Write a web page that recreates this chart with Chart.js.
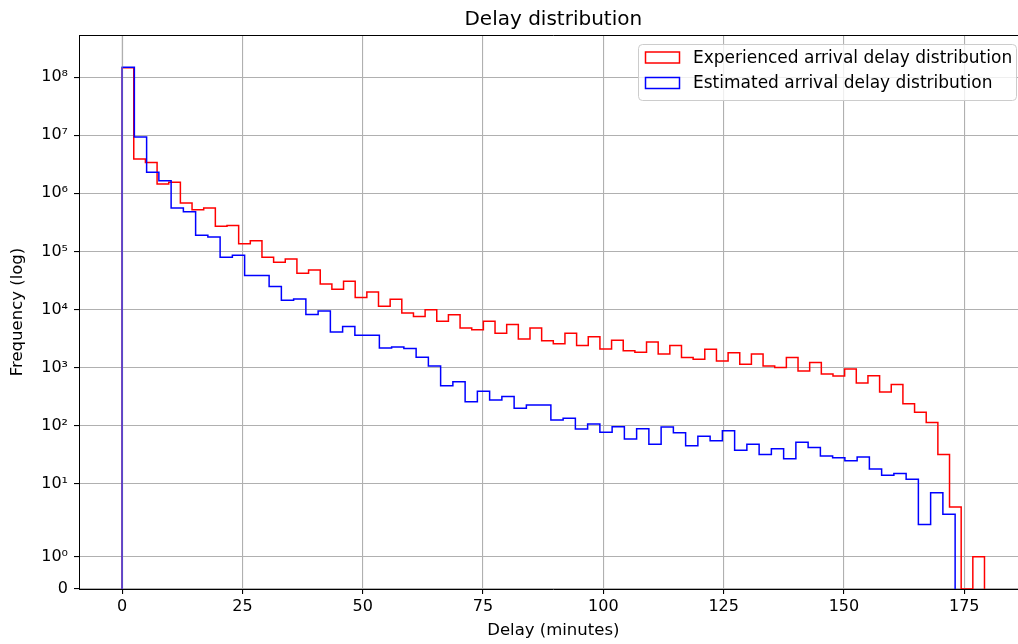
<!DOCTYPE html>
<html>
<head>
<meta charset="utf-8">
<title>Delay distribution</title>
<script src="https://cdn.jsdelivr.net/npm/chart.js@4.4.1/dist/chart.umd.min.js"></script>
<style>
    html, body { margin: 0; padding: 0; background: #fff; overflow: hidden; }
    #wrap { width: 1032px; height: 644px; }
</style>
</head>
<body>
<div id="wrap"><canvas id="chart" width="1032" height="644"></canvas></div>
<script>
// Histogram ranges (minutes) and counts per bin
const redRange = [0, 179.2];
const redCounts = [
    1.45e8, 3.9e6, 3.4e6, 1.45e6, 1.55e6, 6.8e5, 5.2e5, 5.6e5, 2.7e5, 2.8e5,
    1.35e5, 1.53e5, 7.9e4, 6.5e4, 7.4e4, 4.2e4, 4.8e4, 2.74e4, 2.24e4, 3.05e4,
    16100, 20000, 11400, 15000, 8700, 7600, 9900, 6300, 8100, 4800,
    4500, 6300, 3900, 5500, 3100, 4800, 2900, 2580, 3900, 2400,
    3400, 2090, 2950, 1950, 1830, 2750, 1720, 2400, 1490, 1390,
    2070, 1300, 1810, 1140, 1720, 1070, 1000, 1490, 877, 1220,
    778, 718, 948, 541, 725, 381, 512, 239, 171, 114,
    32, 4, 0, 1
];
const blueRange = [0, 173.1];
const blueCounts = [
    1.47e8, 9.3e6, 2.3e6, 1.65e6, 5.6e5, 4.8e5, 1.9e5, 1.77e5, 7.9e4, 8.6e4,
    38500, 38500, 25000, 14400, 15200, 8200, 9400, 4100, 5100, 3600,
    3600, 2170, 2260, 2140, 1510, 1070, 487, 571, 258, 390,
    278, 317, 199, 228, 228, 125, 134, 88, 107, 77,
    96, 59, 89, 48, 95, 76, 45, 66, 55, 82,
    38, 48, 32, 40, 27, 52, 42, 30, 28, 25,
    29, 18, 14, 15, 12, 2, 7, 3
];
const xTicks = [0, 25, 50, 75, 100, 125, 150, 175];
const yTicks = [0, 1, 10, 100, 1e3, 1e4, 1e5, 1e6, 1e7, 1e8];
const yTickLabels = ['0', '10⁰', '10¹', '10²', '10³', '10⁴', '10⁵', '10⁶', '10⁷', '10⁸'];
const seriesLabels = ['Experienced arrival delay distribution', 'Estimated arrival delay distribution'];

// symlog like matplotlib (linthresh 2, linscale 1)
const LINTHRESH = 2;
const LINADJ = 1 / (1 - 1 / 10);
function symlog(v) {
    const a = Math.abs(v);
    if (a <= LINTHRESH) return v * LINADJ;
    return Math.sign(v) * LINTHRESH * (LINADJ + Math.log10(a / LINTHRESH));
}
function symexp(t) {
    const a = Math.abs(t);
    if (a <= LINTHRESH * LINADJ) return t / LINADJ;
    return Math.sign(t) * LINTHRESH * Math.pow(10, a / LINTHRESH - LINADJ);
}

class SymlogScale extends Chart.Scale {
    determineDataLimits() {
        this.min = this.options.min;
        this.max = this.options.max;
    }
    buildTicks() {
        return yTicks.map(v => ({ value: v }));
    }
    configure() {
        super.configure();
        this._lo = symlog(this.min);
        this._hi = symlog(this.max);
    }
    getLabelForValue(value) {
        return String(value);
    }
    getPixelForValue(value) {
        return this.getPixelForDecimal((symlog(value) - this._lo) / (this._hi - this._lo));
    }
    getValueForPixel(pixel) {
        return symexp(this._lo + this.getDecimalForPixel(pixel) * (this._hi - this._lo));
    }
}
SymlogScale.id = 'symlog';
SymlogScale.defaults = {};
Chart.register(SymlogScale);

// outline of a step histogram
function stepPoints(range, counts) {
    const w = (range[1] - range[0]) / counts.length;
    const pts = [{ x: range[0], y: 0 }];
    counts.forEach((c, i) => pts.push({ x: range[0] + i * w, y: c }));
    pts.push({ x: range[1], y: 0 });
    return pts;
}

const FONT = 'DejaVu Sans';
Chart.defaults.font.family = FONT;
Chart.defaults.color = '#000';

const decorations = {
    id: 'decorations',
    afterDatasetsDraw(chart) {
        // grid sits above the histogram outlines, as in the original
        const ctx = chart.ctx;
        const area = chart.chartArea;
        const x0 = chart.scales.x.getPixelForValue(0);
        ctx.save();
        ctx.strokeStyle = 'rgba(176,176,176,0.6)';
        ctx.lineWidth = 1.1;
        ctx.beginPath();
        ctx.moveTo(x0, area.top);
        ctx.lineTo(x0, area.bottom);
        ctx.stroke();
        ctx.restore();
    },
    afterDraw(chart) {
        const ctx = chart.ctx;
        const area = chart.chartArea;
        ctx.save();
        // top / right spines
        ctx.strokeStyle = '#000';
        ctx.lineWidth = 1;
        ctx.beginPath();
        ctx.moveTo(area.left, area.top + 0.5);
        ctx.lineTo(area.right, area.top + 0.5);
        ctx.lineTo(area.right, area.bottom);
        ctx.stroke();

        ctx.fillStyle = '#000';
        ctx.textAlign = 'center';
        ctx.textBaseline = 'alphabetic';
        ctx.font = '20px "' + FONT + '"';
        ctx.fillText('Delay distribution', (area.left + area.right) / 2, 25);

        ctx.font = '16.5px "' + FONT + '"';
        ctx.textBaseline = 'middle';
        ctx.fillText('Delay (minutes)', (area.left + area.right) / 2, 631);
        ctx.save();
        ctx.translate(18, (area.top + area.bottom) / 2);
        ctx.rotate(-Math.PI / 2);
        ctx.fillText('Frequency (log)', 0, 0);
        ctx.restore();

        // legend
        ctx.fillStyle = 'rgba(255,255,255,0.8)';
        ctx.strokeStyle = '#cccccc';
        ctx.lineWidth = 1;
        ctx.beginPath();
        ctx.roundRect(638.5, 44.5, 378, 56, 4);
        ctx.fill();
        ctx.stroke();
        const colors = ['#ff0000', '#0000ff'];
        const rowY = [57.5, 83];
        ctx.font = '17px "' + FONT + '"';
        ctx.textAlign = 'left';
        ctx.textBaseline = 'middle';
        seriesLabels.forEach((label, i) => {
            ctx.strokeStyle = colors[i];
            ctx.lineWidth = 1.5;
            ctx.strokeRect(645.5, rowY[i] - 5.5, 34, 11);
            ctx.fillStyle = '#000';
            ctx.fillText(label, 693, rowY[i] + 1);
        });
        ctx.restore();
    }
};

new Chart(document.getElementById('chart'), {
    type: 'line',
    data: {
        datasets: [
            {
                label: seriesLabels[0],
                data: stepPoints(redRange, redCounts),
                borderColor: '#ff0000',
                borderWidth: 1.5,
                pointRadius: 0,
                stepped: true,
                fill: false,
                order: 1
            },
            {
                label: seriesLabels[1],
                data: stepPoints(blueRange, blueCounts),
                borderColor: '#0000ff',
                borderWidth: 1.5,
                pointRadius: 0,
                stepped: true,
                fill: false,
                order: 0
            }
        ]
    },
    options: {
        responsive: false,
        animation: false,
        layout: { padding: { left: 0, top: 35, right: 4.4, bottom: 0 } },
        plugins: {
            legend: { display: false },
            title: { display: false },
            tooltip: { enabled: false }
        },
        scales: {
            x: {
                type: 'linear',
                min: -8.96,
                max: 188.16,
                afterBuildTicks: scale => { scale.ticks = xTicks.map(v => ({ value: v })); },
                afterFit: scale => { scale.height = 55; },
                grid: { color: '#b0b0b0', lineWidth: 1.1, tickLength: 5, tickColor: '#000' },
                border: { color: '#000', width: 1 },
                ticks: { font: { size: 16 }, padding: 3, maxRotation: 0, autoSkip: false }
            },
            y: {
                type: 'symlog',
                min: 0,
                max: 5.3e8,
                afterFit: scale => { scale.width = 79; },
                grid: { color: '#b0b0b0', lineWidth: 1.1, tickLength: 5, tickColor: '#000' },
                border: { color: '#000', width: 1 },
                ticks: {
                    font: { size: 16 },
                    padding: 6,
                    autoSkip: false,
                    callback: (value, index) => yTickLabels[index]
                }
            }
        }
    },
    plugins: [decorations]
});
</script>
</body>
</html>
